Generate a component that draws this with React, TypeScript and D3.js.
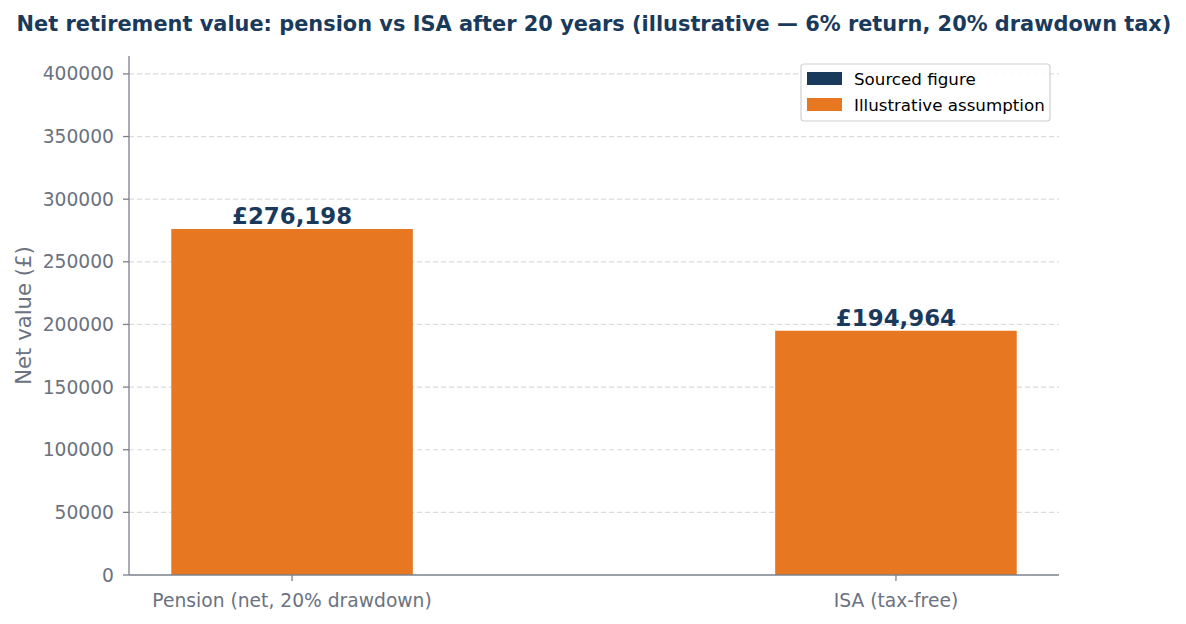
import * as d3 from "d3";

const categories = ["Pension (net, 20% drawdown)", "ISA (tax-free)"];
const values = [276198, 194964];
const valueLabels = ["£276,198", "£194,964"];
const yTicks = [0, 50000, 100000, 150000, 200000, 250000, 300000, 350000, 400000];
const legendItems = [
  { label: "Sourced figure", color: "#1a3a5c" },
  { label: "Illustrative assumption", color: "#e87722" },
];

const width = 1186;
const height = 624;
const left = 129;
const right = 1059;
const top = 56;
const bottom = 575;

const navy = "#1a3a5c";
const orange = "#e87722";
const axisGrey = "#7b808c";
const tickText = "#6b7280";
const font = "DejaVu Sans, sans-serif";

export default function App() {
  const x = d3.scaleLinear().domain([-0.27, 1.27]).range([left, right]);
  const y = d3.scaleLinear().domain([0, 276198 * 1.5]).range([bottom, top]);
  const barW = x(0.4) - x(0);

  return (
    <div style={{ position: "absolute", left: 0, top: 0 }}>
      <svg width={width} height={height} style={{ display: "block", background: "#fff" }} fontFamily={font}>
        <text x={594} y={31} textAnchor="middle" fontSize={20.9} fontWeight="bold" fill={navy}>
          Net retirement value: pension vs ISA after 20 years (illustrative — 6% return, 20% drawdown tax)
        </text>

        {/* grid */}
        {yTicks.slice(1).map((t) => (
          <line key={"g" + t} x1={left} x2={right} y1={y(t)} y2={y(t)} stroke="#dcdcdc" strokeWidth={1.2} strokeDasharray="5 3" />
        ))}

        {/* bars */}
        {values.map((v, i) => (
          <rect key={categories[i]} x={x(i) - barW / 2} y={y(v)} width={barW} height={y(0) - y(v)} fill={orange} />
        ))}

        {/* value labels */}
        {values.map((v, i) => (
          <text key={"v" + i} x={x(i)} y={y(v) - 5} textAnchor="middle" fontSize={22.9} fontWeight="bold" fill={navy}>
            {valueLabels[i]}
          </text>
        ))}

        {/* y axis */}
        <line x1={left} x2={left} y1={top} y2={bottom} stroke={axisGrey} strokeWidth={1.3} />
        {yTicks.map((t) => (
          <g key={"y" + t}>
            <line x1={left - 6} x2={left} y1={y(t)} y2={y(t)} stroke={axisGrey} strokeWidth={1.3} />
            <text x={left - 15} y={y(t) + 6.5} textAnchor="end" fontSize={18.7} fill={tickText}>
              {t}
            </text>
          </g>
        ))}

        {/* x axis */}
        <line x1={left} x2={right} y1={bottom} y2={bottom} stroke={axisGrey} strokeWidth={1.3} />
        {categories.map((c, i) => (
          <g key={"x" + i}>
            <line x1={x(i)} x2={x(i)} y1={bottom} y2={bottom + 6} stroke={axisGrey} strokeWidth={1.3} />
            <text x={x(i)} y={bottom + 32} textAnchor="middle" fontSize={18.7} fill={tickText}>
              {c}
            </text>
          </g>
        ))}

        <text transform={`translate(31,${(top + bottom) / 2}) rotate(-90)`} textAnchor="middle" fontSize={21.2} fill={tickText}>
          Net value (£)
        </text>

        {/* legend */}
        <rect x={801} y={64} width={249} height={57} rx={3} fill="#fff" fillOpacity={0.85} stroke="#d0d0d0" strokeWidth={1.2} />
        {legendItems.map((item, i) => (
          <g key={item.label}>
            <rect x={807} y={72 + i * 26} width={35} height={13} fill={item.color} />
            <text x={854} y={85 + i * 26} fontSize={16.7} fill="#000">
              {item.label}
            </text>
          </g>
        ))}
      </svg>
    </div>
  );
}
